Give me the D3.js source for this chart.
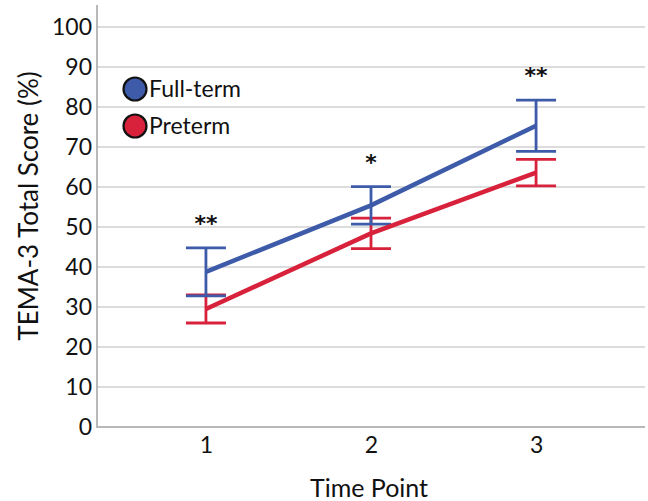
<!DOCTYPE html>
<html><head><meta charset="utf-8">
<script src="https://cdn.jsdelivr.net/npm/d3@7/dist/d3.min.js"></script>
<style>body{margin:0;background:#fff}text{font-family:"Lato","Open Sans",sans-serif;}</style>
</head><body><svg id="c" width="648" height="501"></svg>
<script>
const timePoints = [1, 2, 3];
const fullTermMean = [38.8, 55.4, 75.3];
const fullTermErr = [6.0, 4.7, 6.4];
const pretermMean = [29.5, 48.4, 63.6];
const pretermErr = [3.5, 3.8, 3.3];
const significance = ["**", "*", "**"];
const yTicks = [0,10,20,30,40,50,60,70,80,90,100];
const seriesNames = ["Full-term", "Preterm"];
const colors = ["#3d5ba9", "#d8213a"];

const svg = d3.select("#c");
const x = d3.scaleLinear().domain([0.34, 3.66]).range([97, 645]);
const y = d3.scaleLinear().domain([0, 100]).range([427, 27]);

// gridlines
svg.append("g").selectAll("line").data(yTicks.filter(d=>d>0)).join("line")
  .attr("x1", 97).attr("x2", 645).attr("y1", d=>y(d)).attr("y2", d=>y(d))
  .attr("stroke", "#dcdcdc").attr("stroke-width", 2);

// axes lines
svg.append("line").attr("x1",97).attr("x2",97).attr("y1",5).attr("y2",y(0)+1).attr("stroke","#b8b8b8").attr("stroke-width",2);
svg.append("line").attr("x1",96).attr("x2",645).attr("y1",y(0)).attr("y2",y(0)).attr("stroke","#b8b8b8").attr("stroke-width",2);

// y tick labels
const yAxis = d3.axisLeft(y).tickValues(yTicks).tickSize(0).tickPadding(5);
const ga = svg.append("g").attr("transform","translate(97,0)").call(yAxis);
ga.select(".domain").remove();
ga.selectAll("text").attr("font-size",23).attr("fill","#111").style("font-family","Lato, sans-serif");

// x tick labels
const xAxis = d3.axisBottom(x).tickValues(timePoints).tickSize(0).tickPadding(10).tickFormat(d3.format("d"));
const gx = svg.append("g").attr("transform",`translate(0,${y(0)})`).call(xAxis);
gx.select(".domain").remove();
gx.selectAll("text").attr("font-size",23).attr("fill","#111").style("font-family","Lato, sans-serif");

// axis titles
svg.append("text").attr("x",369).attr("y",497).attr("text-anchor","middle").attr("font-size",25).attr("fill","#111").text("Time Point");
svg.append("text").attr("transform","translate(38,206) rotate(-90)").attr("text-anchor","middle").attr("font-size",26).attr("fill","#111").text("TEMA-3 Total Score (%)");

const series = [
  {mean: fullTermMean, err: fullTermErr, color: colors[0]},
  {mean: pretermMean, err: pretermErr, color: colors[1]}
];

// error bars (draw preterm first then full-term)
series.slice().reverse().forEach(s => {
  const g = svg.append("g").attr("stroke", s.color).attr("stroke-width", 2.8).attr("fill","none");
  timePoints.forEach((t,i) => {
    const lo = s.mean[i]-s.err[i], hi = s.mean[i]+s.err[i];
    g.append("line").attr("x1",x(t)).attr("x2",x(t)).attr("y1",y(lo)).attr("y2",y(hi));
    g.append("line").attr("x1",x(t)-20).attr("x2",x(t)+20).attr("y1",y(lo)).attr("y2",y(lo));
    g.append("line").attr("x1",x(t)-20).attr("x2",x(t)+20).attr("y1",y(hi)).attr("y2",y(hi));
  });
});

// lines
const line = d3.line().x((d,i)=>x(timePoints[i])).y(d=>y(d));
series.forEach(s => {
  svg.append("path").datum(s.mean).attr("d", line).attr("fill","none")
    .attr("stroke", s.color).attr("stroke-width", 4.5);
});

// significance
timePoints.forEach((t,i) => {
  const top = fullTermMean[i] + fullTermErr[i];
  svg.append("text").attr("x", x(t)).attr("y", y(top) - 17).attr("text-anchor","middle")
    .attr("font-size", 22).attr("font-weight","bold").attr("fill","#111").style("font-family","DejaVu Sans, sans-serif").text(significance[i]);
});

// legend
seriesNames.forEach((n,i) => {
  const cy = 89 + i*37;
  svg.append("circle").attr("cx",135).attr("cy",cy).attr("r",11.5).attr("fill",colors[i]).attr("stroke","#111").attr("stroke-width",2.2);
  svg.append("text").attr("x",149).attr("y",cy+8).attr("font-size",23).attr("fill","#111").text(n);
});
</script></body></html>
